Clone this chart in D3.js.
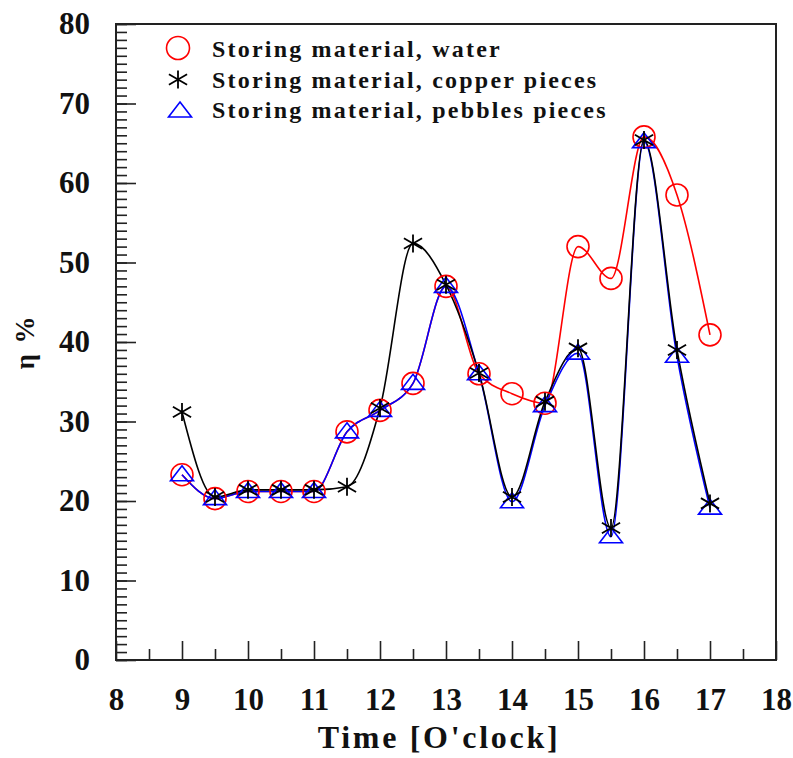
<!DOCTYPE html>
<html>
<head>
<meta charset="utf-8">
<script src="https://cdn.jsdelivr.net/npm/d3@7"></script>
<style>
  body { margin: 0; background: #fff; }
  svg text { font-family: "Liberation Serif", "Times New Roman", serif; font-weight: bold; fill: #111; }
</style>
</head>
<body>
<div id="vis"></div>
<script>
// hours of the day
var hours = [9, 9.5, 10, 10.5, 11, 11.5, 12, 12.5, 13, 13.5, 14, 14.5, 15, 15.5, 16, 16.5, 17];
// efficiency, %
var water = [23.3, 20.3, 21.2, 21.2, 21.2, 28.7, 31.4, 34.8, 47.0, 36.0, 33.5, 32.3, 52.0, 48.0, 65.8, 58.5, 40.9];
var copper = [31.2, 20.5, 21.4, 21.4, 21.4, 21.8, 31.7, 52.4, 47.2, 36.1, 20.5, 32.5, 39.2, 16.6, 65.4, 39.0, 19.7];
var pebbles = [23.3, 20.3, 21.2, 21.2, 21.2, 28.7, 31.4, 34.8, 47.0, 36.0, 19.9, 32.0, 38.6, 15.5, 65.2, 38.2, 19.1];

var xTicks = [8, 9, 10, 11, 12, 13, 14, 15, 16, 17, 18];
var yTicks = [0, 10, 20, 30, 40, 50, 60, 70, 80];
var legendLabels = ["Storing material, water", "Storing material, copper pieces", "Storing material, pebbles pieces"];

var width = 793, height = 758;
var margin = { top: 24, right: 17, bottom: 98, left: 116 };

var svg = d3.select("#vis").append("svg")
    .attr("width", width)
    .attr("height", height);

svg.append("rect").attr("width", width).attr("height", height).attr("fill", "#fff");

var x = d3.scaleLinear().domain([8, 18]).range([margin.left, width - margin.right]);
var y = d3.scaleLinear().domain([0, 80]).range([height - margin.bottom, margin.top]);

// minor ticks
svg.append("g")
    .attr("transform", "translate(" + x(8) + ",0)")
    .call(d3.axisLeft(y).tickValues(d3.range(0, 81, 1)).tickSizeInner(-11).tickSizeOuter(0).tickFormat(""))
    .call(function (g) { g.select(".domain").remove(); })
    .selectAll("line").attr("stroke", "#222").attr("stroke-width", 1.6);

svg.append("g")
    .attr("transform", "translate(0," + y(0) + ")")
    .call(d3.axisBottom(x).tickValues(d3.range(8.5, 18, 1)).tickSizeInner(-11).tickSizeOuter(0).tickFormat(""))
    .call(function (g) { g.select(".domain").remove(); })
    .selectAll("line").attr("stroke", "#222").attr("stroke-width", 1.6);

// major ticks + labels
var yAxis = svg.append("g")
    .attr("transform", "translate(" + x(8) + ",0)")
    .call(d3.axisLeft(y).tickValues(yTicks).tickSizeInner(-20).tickSizeOuter(0).tickPadding(26).tickFormat(d3.format("d")));
yAxis.select(".domain").remove();
yAxis.selectAll("line").attr("stroke", "#222").attr("stroke-width", 1.6);
yAxis.selectAll("text").style("font-size", "31px").attr("fill", "#111");

var xAxis = svg.append("g")
    .attr("transform", "translate(0," + y(0) + ")")
    .call(d3.axisBottom(x).tickValues(xTicks).tickSizeInner(-19).tickSizeOuter(0).tickPadding(28).tickFormat(d3.format("d")));
xAxis.select(".domain").remove();
xAxis.selectAll("line").attr("stroke", "#222").attr("stroke-width", 1.6);
xAxis.selectAll("text").style("font-size", "31px").attr("fill", "#111");

// frame
svg.append("rect")
    .attr("x", x(8)).attr("y", y(80))
    .attr("width", x(18) - x(8)).attr("height", y(0) - y(80))
    .attr("fill", "none").attr("stroke", "#222").attr("stroke-width", 2);

// axis titles
svg.append("text")
    .attr("x", 439)
    .attr("y", 748)
    .attr("text-anchor", "middle")
    .style("font-size", "32px")
    .style("letter-spacing", "2.7px")
    .text("Time [O'clock]");

svg.append("text")
    .attr("transform", "translate(34," + 342 + ") rotate(-90)")
    .attr("text-anchor", "middle")
    .style("font-size", "27px")
    .style("letter-spacing", "2px")
    .text("η %");

// curves
var line = d3.line()
    .x(function (d) { return x(d[0]); })
    .y(function (d) { return y(d[1]); })
    .curve(d3.curveMonotoneX);

function pairs(vals) { return hours.map(function (h, i) { return [h, vals[i]]; }); }

svg.append("path").datum(pairs(water)).attr("d", line)
    .attr("fill", "none").attr("stroke", "#ff0000").attr("stroke-width", 1.6);
svg.append("path").datum(pairs(pebbles)).attr("d", line)
    .attr("fill", "none").attr("stroke", "#0000ff").attr("stroke-width", 1.6);
svg.append("path").datum(pairs(copper)).attr("d", line)
    .attr("fill", "none").attr("stroke", "#000").attr("stroke-width", 1.6);

// marker shapes
var triPath = "M0,-9L11.5,6L-11.5,6Z";
var starPath = (function () {
    var p = "M0,-9L0,9";
    [30, -30].forEach(function (a) {
        var r = a * Math.PI / 180, dx = 10.5 * Math.cos(r), dy = 10.5 * Math.sin(r);
        p += "M" + (-dx) + "," + (-dy) + "L" + dx + "," + dy;
    });
    return p;
})();

svg.append("g").selectAll("circle")
    .data(pairs(water)).enter().append("circle")
    .attr("cx", function (d) { return x(d[0]); })
    .attr("cy", function (d) { return y(d[1]); })
    .attr("r", 11)
    .attr("fill", "none").attr("stroke", "#ff0000").attr("stroke-width", 1.6);

svg.append("g").selectAll("path")
    .data(pairs(pebbles)).enter().append("path")
    .attr("transform", function (d) { return "translate(" + x(d[0]) + "," + y(d[1]) + ")"; })
    .attr("d", triPath)
    .attr("fill", "none").attr("stroke", "#0000ff").attr("stroke-width", 1.6);

svg.append("g").selectAll("path")
    .data(pairs(copper)).enter().append("path")
    .attr("transform", function (d) { return "translate(" + x(d[0]) + "," + y(d[1]) + ")"; })
    .attr("d", starPath)
    .attr("fill", "none").attr("stroke", "#000").attr("stroke-width", 1.8);

// legend
var legend = svg.append("g").attr("transform", "translate(178,48)");
var rowH = 30.5;

legend.append("circle").attr("cx", 0).attr("cy", 0).attr("r", 11.5)
    .attr("fill", "none").attr("stroke", "#ff0000").attr("stroke-width", 1.6);
legend.append("path").attr("transform", "translate(0," + (rowH + 1) + ")").attr("d", starPath)
    .attr("fill", "none").attr("stroke", "#000").attr("stroke-width", 1.8);
legend.append("path").attr("transform", "translate(2," + (2 * rowH + 2) + ")").attr("d", triPath)
    .attr("fill", "none").attr("stroke", "#0000ff").attr("stroke-width", 1.6);

legend.selectAll("text")
    .data(legendLabels).enter().append("text")
    .attr("x", 34)
    .attr("y", function (d, i) { return 9 + i * rowH; })
    .style("font-size", "24px")
    .style("letter-spacing", "2.2px")
    .text(function (d) { return d; });
</script>
</body>
</html>
